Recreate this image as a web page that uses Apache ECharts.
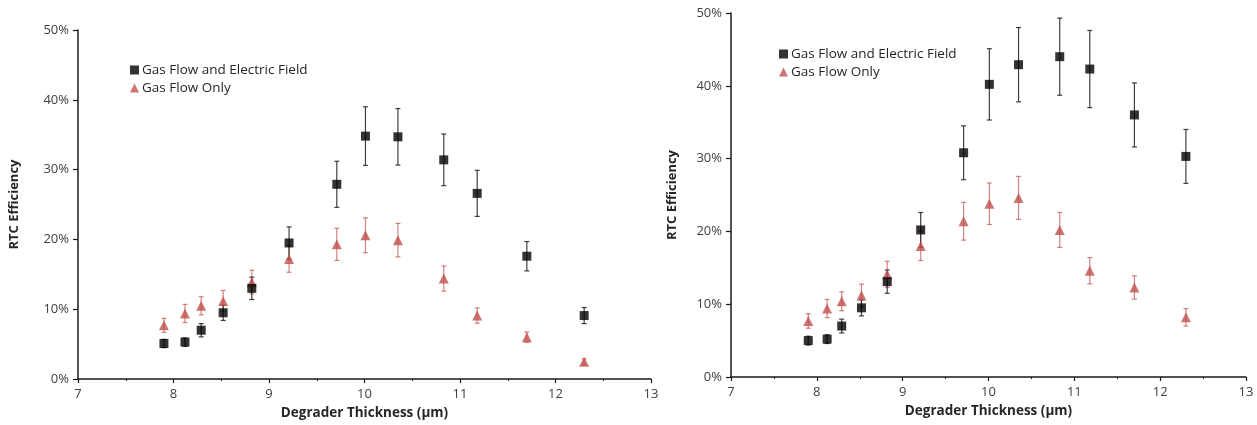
<!DOCTYPE html>
<html>
<head>
<meta charset="utf-8">
<script src="https://cdn.jsdelivr.net/npm/echarts@6/dist/echarts.min.js"></script>
<style>
  html, body { margin: 0; padding: 0; background: #fff; }
  #chart { width: 1257px; height: 425px; }
</style>
</head>
<body>
<div id="chart"></div>
<script>
// degrader thickness (µm), same for both panels
const thickness = [7.9, 8.12, 8.29, 8.52, 8.82, 9.21, 9.71, 10.01, 10.35, 10.83, 11.18, 11.7, 12.3]

// left panel (%)
const leftField = [5.1, 5.3, 7.0, 9.5, 13.0, 19.5, 27.9, 34.8, 34.7, 31.4, 26.6, 17.6, 9.1]
const leftFieldErr = [0.6, 0.6, 0.95, 1.1, 1.6, 2.3, 3.3, 4.2, 4.05, 3.7, 3.3, 2.1, 1.15]
const leftFlow = [7.7, 9.4, 10.5, 11.2, 13.9, 17.2, 19.3, 20.6, 19.9, 14.4, 9.1, 6.0, 2.5]
const leftFlowErr = [1.0, 1.3, 1.3, 1.5, 1.7, 1.9, 2.3, 2.5, 2.4, 1.8, 1.1, 0.75, 0.4]

// right panel (%)
const rightField = [5.0, 5.2, 7.0, 9.5, 13.1, 20.2, 30.8, 40.2, 42.9, 44.0, 42.3, 36.0, 30.3]
const rightFieldErr = [0.6, 0.6, 0.95, 1.1, 1.6, 2.4, 3.7, 4.9, 5.1, 5.3, 5.3, 4.4, 3.7]
const rightFlow = [7.7, 9.4, 10.4, 11.2, 14.1, 18.0, 21.4, 23.8, 24.6, 20.2, 14.6, 12.3, 8.2]
const rightFlowErr = [1.0, 1.25, 1.3, 1.55, 1.8, 2.0, 2.6, 2.85, 2.95, 2.4, 1.8, 1.6, 1.2]

const seriesNames = ['Gas Flow and Electric Field', 'Gas Flow Only']
const xTicks = { min: 7, max: 13, interval: 1 }
const yTicks = { min: 0, max: 50, interval: 10 }

const FONT = '"Open Sans", "Liberation Sans", sans-serif'
const BLACK = '#000000'
const RED = '#c0504d'

function points(ys) {
  return thickness.map((x, i) => [x, ys[i]])
}

function errPoints(ys, errs) {
  return thickness.map((x, i) => [x, ys[i], errs[i]])
}

// vertical error bar with small caps
function errorBar(color) {
  return function (params, api) {
    const x = api.value(0)
    const y = api.value(1)
    const e = api.value(2)
    const hi = api.coord([x, y + e])
    const lo = api.coord([x, y - e])
    const cap = 2.5
    const style = { stroke: color, lineWidth: 1.2 }
    return {
      type: 'group',
      children: [
        { type: 'line', shape: { x1: hi[0], y1: hi[1], x2: lo[0], y2: lo[1] }, style },
        { type: 'line', shape: { x1: hi[0] - cap, y1: hi[1], x2: hi[0] + cap, y2: hi[1] }, style },
        { type: 'line', shape: { x1: lo[0] - cap, y1: lo[1], x2: lo[0] + cap, y2: lo[1] }, style }
      ]
    }
  }
}

function xAxis(gridIndex, gap) {
  return {
    gridIndex,
    type: 'value',
    min: xTicks.min,
    max: xTicks.max,
    interval: xTicks.interval,
    name: 'Degrader Thickness (µm)',
    nameLocation: 'middle',
    nameGap: gap,
    nameTextStyle: { color: '#262626', fontSize: 13.5, fontWeight: 'bold', fontFamily: FONT },
    axisLine: { onZero: false, lineStyle: { color: '#1a1a1a', width: 1.5 } },
    axisTick: { length: 4, lineStyle: { color: '#1a1a1a', width: 1.2 } },
    minorTick: { show: true, splitNumber: 2, length: 2, lineStyle: { color: '#1a1a1a' } },
    axisLabel: { color: '#404040', fontSize: 13, fontFamily: FONT, margin: 9 },
    splitLine: { show: false }
  }
}

function yAxis(gridIndex, gap) {
  return {
    gridIndex,
    type: 'value',
    min: yTicks.min,
    max: yTicks.max,
    interval: yTicks.interval,
    name: 'RTC Efficiency',
    nameLocation: 'middle',
    nameGap: gap,
    nameTextStyle: { color: '#262626', fontSize: 13, fontWeight: 'bold', fontFamily: FONT },
    axisLine: { show: true, lineStyle: { color: '#1a1a1a', width: 1.5 } },
    axisTick: { show: true, length: 5, lineStyle: { color: '#1a1a1a', width: 1.2 } },
    axisLabel: { color: '#404040', fontSize: 13, fontFamily: FONT, formatter: '{value}%', margin: 9 },
    splitLine: { show: false }
  }
}

function panelSeries(idx, field, fieldErr, flow, flowErr) {
  return [
    {
      type: 'custom',
      xAxisIndex: idx, yAxisIndex: idx,
      renderItem: errorBar('rgba(192,80,77,0.7)'),
      encode: { x: 0, y: 1 },
      data: errPoints(flow, flowErr),
      z: 1,
      silent: true
    },
    {
      type: 'custom',
      xAxisIndex: idx, yAxisIndex: idx,
      renderItem: errorBar('rgba(30,30,30,0.85)'),
      encode: { x: 0, y: 1 },
      data: errPoints(field, fieldErr),
      z: 1,
      silent: true
    },
    {
      name: seriesNames[1],
      type: 'scatter',
      xAxisIndex: idx, yAxisIndex: idx,
      symbol: 'triangle',
      symbolSize: 10,
      itemStyle: { color: RED },
      data: points(flow),
      z: 3
    },
    {
      name: seriesNames[0],
      type: 'scatter',
      xAxisIndex: idx, yAxisIndex: idx,
      symbol: 'rect',
      symbolSize: 9,
      itemStyle: { color: BLACK },
      data: points(field),
      z: 4
    }
  ]
}

function legend(left, top) {
  return {
    left, top,
    orient: 'vertical',
    data: [
      { name: seriesNames[0], icon: 'rect' },
      { name: seriesNames[1], icon: 'triangle' }
    ],
    itemWidth: 9,
    itemHeight: 9,
    itemGap: 4,
    textStyle: { color: '#262626', fontSize: 13.5, fontFamily: FONT, padding: [0, 0, 0, -2] }
  }
}

const chart = echarts.init(document.getElementById('chart'), null, { renderer: 'canvas' })

chart.setOption({
  backgroundColor: '#ffffff',
  animation: false,
  legend: [legend(125, 58), legend(774, 42)],
  grid: [
    { left: 78, top: 30, width: 573, height: 350 },
    { left: 731, top: 13, width: 515, height: 364 }
  ],
  xAxis: [xAxis(0, 26), xAxis(1, 27)],
  yAxis: [yAxis(0, 57), yAxis(1, 52)],
  series: [
    ...panelSeries(0, leftField, leftFieldErr, leftFlow, leftFlowErr),
    ...panelSeries(1, rightField, rightFieldErr, rightFlow, rightFlowErr)
  ]
})
</script>
</body>
</html>
